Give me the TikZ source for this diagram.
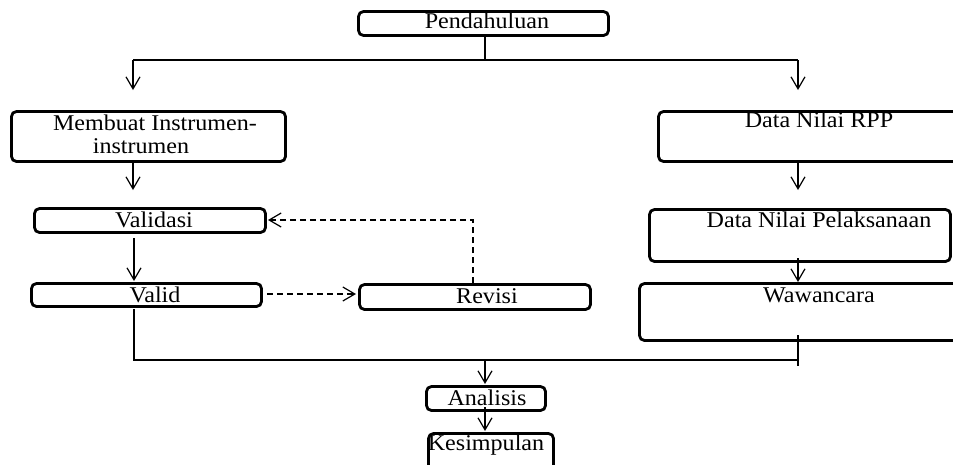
\documentclass[tikz,border=0pt]{standalone}
\usepackage{fontspec}
\newfontfamily\lblfont[FakeStretch=1.07]{Liberation Serif}
\usetikzlibrary{arrows.meta}
\tikzset{
  box/.style={draw, line width=2.8pt, rounded corners=5pt, inner sep=0pt},
  lbl/.style={font=\lblfont\fontsize{22.5}{23}\selectfont, inner sep=0pt, anchor=base},
  conn/.style={line width=1.2pt},
  arr/.style={conn, -{Straight Barb[length=12pt,width=14pt,line width=1.2pt]}},
  dasharr/.style={arr, dash pattern=on 6pt off 4pt},
}
\begin{document}
\begin{tikzpicture}[x=1pt,y=-1pt]
\useasboundingbox (0,0) rectangle (953,464);
\clip (0,0) rectangle (953,464);
% boxes
\node[box, minimum width=250, minimum height=24] (pend) at (483.5,23.5) {};
\node[box, minimum width=274, minimum height=50] (memb) at (148.5,136.5) {};
\node[box, minimum width=231, minimum height=24] (vald) at (150,220.5) {};
\node[box, minimum width=230, minimum height=23] (valid) at (146.5,295) {};
\node[box, minimum width=231, minimum height=25] (rev) at (475,297) {};
\node[box, minimum width=321.5, minimum height=50] (rpp) at (819.25,136.5) {};
\node[box, minimum width=301, minimum height=52] (dnp) at (800,235.5) {};
\node[box, minimum width=360.5, minimum height=57] (waw) at (819.75,312) {};
\node[box, minimum width=119, minimum height=24] (anl) at (486,398.5) {};
\node[box, minimum width=125, minimum height=47] (kes) at (491,457) {};
% texts
\node[lbl] (tpend) at (487,28) {Pendahuluan};
\node[lbl] (tmemb1) at (155,130) {Membuat Instrumen-};
\node[lbl] (tmemb2) at (141,153) {instrumen};
\node[lbl] (tvald) at (154,227) {Validasi};
\node[lbl] (tvalid) at (155,302) {Valid};
\node[lbl] (trev) at (487,303) {Revisi};
\node[lbl] (trpp) at (819,127) {Data Nilai RPP};
\node[lbl] (tdnp) at (819,227) {Data Nilai Pelaksanaan};
\node[lbl] (twaw) at (819,302) {Wawancara};
\node[lbl] (tanl) at (487,405) {Analisis};
\node[lbl] (tkes) at (486,450) {Kesimpulan};
% coordinates
\coordinate (spl) at (485,60);
\coordinate (lt) at (133,60);
\coordinate (rt) at (798,60);
\coordinate (la) at (133,90);
\coordinate (ra) at (798,90);
\coordinate (m1) at (133,163);
\coordinate (m2) at (133,190);
\coordinate (v1) at (134,238);
\coordinate (v2) at (134,281);
\coordinate (d1) at (267,294);
\coordinate (d2) at (356,294);
\coordinate (r1) at (473,283);
\coordinate (r2) at (473,220);
\coordinate (r3) at (268,220);
\coordinate (b1) at (134,309);
\coordinate (bl) at (134,360);
\coordinate (br) at (798,360);
\coordinate (w1) at (798,335);
\coordinate (w2) at (798,366);
\coordinate (c1) at (485,360);
\coordinate (c2) at (485,384);
\coordinate (k1) at (485,407);
\coordinate (k2) at (485,431);
\coordinate (p1) at (798,163);
\coordinate (p2) at (798,190);
\coordinate (q1) at (798,258);
\coordinate (q2) at (798,282);
% connectors
\draw[conn] (spl |- pend.south) -- (spl);
\draw[conn] (lt) -- (rt);
\draw[arr] (lt) -- (la);
\draw[arr] (rt) -- (ra);
\draw[arr] (m1) -- (m2);
\draw[arr] (v1) -- (v2);
\draw[dasharr] (d1) -- (d2);
\draw[dasharr] (r1) -- (r2) -- (r3);
\draw[conn] (b1) -- (bl) -- (br);
\draw[conn] (w1) -- (w2);
\draw[arr] (c1) -- (c2);
\draw[arr] (k1) -- (k2);
\draw[arr] (p1) -- (p2);
\draw[arr] (q1) -- (q2);
\end{tikzpicture}
\end{document}
